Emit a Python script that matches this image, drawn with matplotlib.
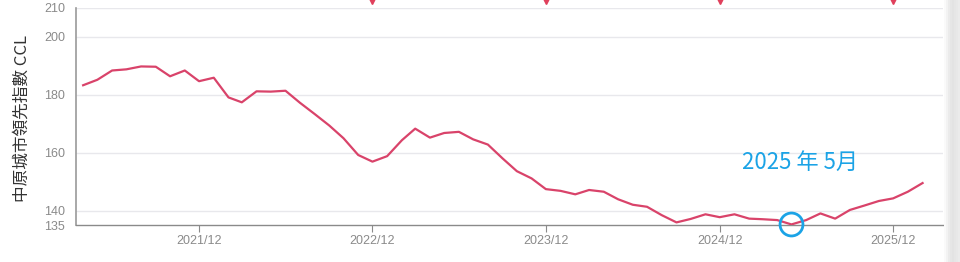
import matplotlib
matplotlib.use("Agg")
import matplotlib.pyplot as plt
import matplotlib.dates as mdates
import numpy as np
import pandas as pd

# ---- data ----
months = pd.date_range("2021-04-01", "2026-02-01", freq="MS")
ccl = [183.3, 185.2, 188.4, 188.8, 189.8, 189.7, 186.4, 188.4, 184.7,
       185.9, 179.1, 177.4, 181.2, 181.1, 181.4, 177.3, 173.4, 169.4, 165.0, 159.2, 156.9,
       158.8, 164.3, 168.3, 165.2, 166.8, 167.2, 164.6, 162.8, 158.0, 153.6, 151.1, 147.4,
       146.8, 145.6, 147.1, 146.5, 143.9, 142.0, 141.3, 138.4, 135.9, 137.1, 138.7, 137.7,
       138.7, 137.2, 137.0, 136.7, 135.2, 136.7, 139.0, 137.2, 140.2, 141.7, 143.3, 144.2,
       146.5, 149.5]
tick_dates = pd.to_datetime(["2021-12-01", "2022-12-01", "2023-12-01", "2024-12-01", "2025-12-01"])
tick_labels = ["2021/12", "2022/12", "2023/12", "2024/12", "2025/12"]
yticks = [135, 140, 160, 180, 200, 210]
marker_dates = pd.to_datetime(["2022-12-01", "2023-12-01", "2024-12-01", "2025-12-01"])
highlight_date = pd.Timestamp("2025-05-01")
highlight_value = 135.2
annot_text = "2025 年 5月"
ylabel_text = "中原城市領先指數 CCL"

CJK = ["Noto Sans CJK TC", "DejaVu Sans"]
plt.rcParams["font.family"] = ["Liberation Sans", "DejaVu Sans"]

fig = plt.figure(figsize=(9.6, 2.62), dpi=100)
fig.patch.set_facecolor("white")
ax = fig.add_axes([76 / 960, 37 / 262, (943 - 76) / 960, (225 - 8) / 262])

ax.set_ylim(135, 210)
ax.set_xlim(pd.Timestamp("2021-03-17"), pd.Timestamp("2026-03-16"))

for v in yticks[1:]:
    ax.axhline(v, color="#e8e8ec", lw=1.0, zorder=0)

ax.plot(months, ccl, color="#d9436a", lw=1.6, zorder=3, solid_joinstyle="round")

# top markers (clipped triangles)
ax.plot(marker_dates, [212.4] * len(marker_dates), linestyle="none", marker="v",
        markersize=5, color="#e0405c", clip_on=False, zorder=4)

# highlight circle
ax.plot([highlight_date], [highlight_value], linestyle="none", marker="o",
        markersize=16.5, markerfacecolor="none", markeredgecolor="#1ba3e6",
        markeredgewidth=2.0, clip_on=False, zorder=5)
ax.text(pd.Timestamp("2025-05-20"), 156.6, annot_text, color="#1ba3e6", fontsize=16,
        ha="center", va="center", family=CJK)

ax.set_yticks(yticks)
ax.set_yticklabels([str(v) for v in yticks])
ax.set_xticks(tick_dates)
ax.set_xticklabels(tick_labels)
ax.tick_params(axis="y", length=0, pad=8, labelsize=9, labelcolor="#8a8a8a")
ax.tick_params(axis="x", length=5, width=0.8, color="#8a8a8a", pad=2,
               labelsize=9, labelcolor="#8a8a8a")

for s in ["top", "right"]:
    ax.spines[s].set_visible(False)
ax.spines["left"].set_color("#9a9a9a")
ax.spines["bottom"].set_color("#8a8a8a")
ax.spines["left"].set_linewidth(1.2)
ax.spines["bottom"].set_linewidth(1.0)

fig.text(22 / 960, 1 - 118 / 262, ylabel_text, rotation=90, ha="center", va="center",
         fontsize=12, color="#333333", family=CJK)

# page-edge shadow on the right
sax = fig.add_axes([944 / 960, 0, 16 / 960, 1])
grad = np.array([[0.98, 0.95, 0.92, 0.90, 0.89, 0.90, 0.91, 0.92]])
sax.imshow(grad, aspect="auto", cmap="gray", vmin=0, vmax=1, extent=[0, 1, 0, 1])
sax.set_axis_off()

fig.savefig("out.png", dpi=100, facecolor="white")
